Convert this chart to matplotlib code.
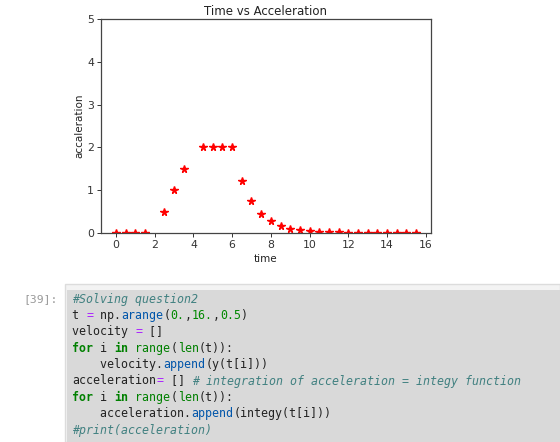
import numpy as np
import matplotlib
matplotlib.use("Agg")
import matplotlib.pyplot as plt
from matplotlib.patches import Rectangle

# data
time = [0.0, 0.5, 1.0, 1.5, 2.0, 2.5, 3.0, 3.5, 4.0, 4.5, 5.0, 5.5, 6.0, 6.5, 7.0, 7.5,
        8.0, 8.5, 9.0, 9.5, 10.0, 10.5, 11.0, 11.5, 12.0, 12.5, 13.0, 13.5, 14.0, 14.5, 15.0, 15.5]
acceleration = [0.0, 0.0, 0.0, 0.0, np.nan, 0.5, 1.0, 1.5, np.nan, 2.0, 2.0, 2.0, 2.0, 1.22, 0.74, 0.45,
                0.27, 0.165, 0.10, 0.06, 0.037, 0.022, 0.018, 0.02, 0.005, 0.003, 0.002, 0.001, 0.001, 0.0, 0.0, 0.0]
x_ticks = [0, 2, 4, 6, 8, 10, 12, 14, 16]
y_ticks = [0, 1, 2, 3, 4, 5]

W, H = 560, 442
fig = plt.figure(figsize=(W / 100, H / 100), dpi=100)
fig.patch.set_facecolor("white")


def px(x0, y0, x1, y1):
    # pixel box (top-left origin) -> figure fraction rect
    return [x0 / W, 1 - y1 / H, (x1 - x0) / W, (y1 - y0) / H]


ax = fig.add_axes(px(101, 19, 431, 233))
ax.plot(time, acceleration, "r*", markersize=5.5)
ax.set_ylim(0, 5)
ax.set_xticks(x_ticks)
ax.set_yticks(y_ticks)
ax.set_title("Time vs Acceleration", fontsize=8.5, pad=3, color="#222222")
ax.set_xlabel("time", fontsize=7.5, labelpad=3, color="#222222")
ax.set_ylabel("accaleration", fontsize=7.5, labelpad=2, color="#222222")
ax.tick_params(labelsize=7.8, length=3, width=0.7, pad=2, colors="#333333")
for s in ax.spines.values():
    s.set_color("#444444")
    s.set_linewidth(0.9)

# notebook code cell underneath
fig.patches.append(Rectangle((65 / W, 0), (W - 65) / W, 1 - 284 / H, transform=fig.transFigure,
                             facecolor="#f3f3f3", edgecolor="#dcdcdc", linewidth=1))
fig.patches.append(Rectangle((67 / W, 0), (W - 67) / W, 1 - 290 / H, transform=fig.transFigure,
                             facecolor="#d9d9d9", edgecolor="none"))

fig.text(58 / W, 1 - 299 / H, "[39]:", ha="right", va="center", color="#999999",
         family="DejaVu Sans Mono", fontsize=8.2)

C_COM, C_OP, C_NUM, C_KW, C_PROP, C_TXT = "#408080", "#aa22ff", "#008800", "#008000", "#0055aa", "#222222"
code_lines = [
    [("#Solving question2", C_COM)],
    [("t ", C_TXT), ("=", C_OP), (" np.", C_TXT), ("arange", C_PROP), ("(", C_TXT), ("0.", C_NUM),
     (",", C_TXT), ("16.", C_NUM), (",", C_TXT), ("0.5", C_NUM), (")", C_TXT)],
    [("velocity ", C_TXT), ("=", C_OP), (" []", C_TXT)],
    [("for", C_KW + "b"), (" i ", C_TXT), ("in", C_KW + "b"), (" ", C_TXT), ("range", C_KW),
     ("(", C_TXT), ("len", C_KW), ("(t)):", C_TXT)],
    [("    velocity.", C_TXT), ("append", C_PROP), ("(y(t[i]))", C_TXT)],
    [("acceleration", C_TXT), ("=", C_OP), (" [] ", C_TXT),
     ("# integration of acceleration = integy function", C_COM)],
    [("for", C_KW + "b"), (" i ", C_TXT), ("in", C_KW + "b"), (" ", C_TXT), ("range", C_KW),
     ("(", C_TXT), ("len", C_KW), ("(t)):", C_TXT)],
    [("    acceleration.", C_TXT), ("append", C_PROP), ("(integy(t[i]))", C_TXT)],
    [("#print(acceleration)", C_COM)],
]

char_w = 7.04
x0, y0, dy = 72, 299, 16.4
for row, segs in enumerate(code_lines):
    col = 0
    for text, color in segs:
        bold = color.endswith("b")
        color = color.rstrip("b")
        fig.text((x0 + col * char_w) / W, 1 - (y0 + row * dy) / H, text, ha="left", va="center",
                 color=color, family="DejaVu Sans Mono", fontsize=8.4,
                 style="italic" if color == C_COM else "normal",
                 weight="bold" if bold else "normal")
        col += len(text)

fig.savefig("out.png", dpi=100)
